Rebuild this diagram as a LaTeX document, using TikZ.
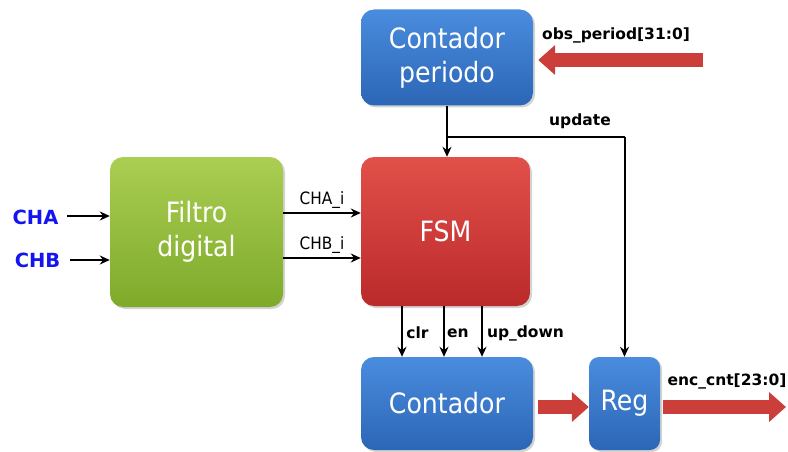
\documentclass[tikz,border=0pt]{standalone}
\usepackage{fontspec}
\setmainfont{DejaVu Sans}
\newfontfamily\boxfont{DejaVu Sans Condensed}
\usetikzlibrary{arrows.meta,shadows}

\definecolor{blueTop}{RGB}{74,140,222}
\definecolor{blueBot}{RGB}{44,102,182}
\definecolor{redTop}{RGB}{226,80,74}
\definecolor{redBot}{RGB}{186,42,42}
\definecolor{greenTop}{RGB}{170,206,82}
\definecolor{greenBot}{RGB}{126,170,42}
\definecolor{busRed}{RGB}{204,62,58}
\definecolor{inBlue}{RGB}{20,20,240}

\begin{document}
\begin{tikzpicture}[x=1pt,y=-1pt]
\tikzset{
  blk/.style={rounded corners=13pt, text=white, align=center, inner sep=0pt,
              font=\boxfont\fontsize{28}{34}\selectfont,
              drop shadow={shadow xshift=2pt,shadow yshift=-2pt,opacity=0.35}},
  bluebox/.style={blk, top color=blueTop, bottom color=blueBot},
  sig/.style={line width=2pt, -{Stealth[length=10pt,width=9pt]}},
  bus/.style={line width=14pt, draw=busRed, -{Triangle[length=17pt,width=29pt]}},
  lbl/.style={font=\bfseries\fontsize{15.5}{17}\selectfont, inner sep=1pt},
  thin/.style={font=\boxfont\fontsize{17}{19}\selectfont, inner sep=1pt},
  chin/.style={font=\bfseries\fontsize{19.5}{22}\selectfont, text=inBlue, inner sep=1pt}
}
\useasboundingbox (0,0) rectangle (788,452);

% blocks
\node[bluebox, minimum width=172pt, minimum height=96pt] (per) at (447,57.5) {Contador\\periodo};
\node[blk, top color=redTop, bottom color=redBot, minimum width=169pt, minimum height=149pt] (fsm) at (445.5,231.5) {FSM};
\node[blk, top color=greenTop, bottom color=greenBot, minimum width=173pt, minimum height=150pt] (filt) at (196.5,232) {Filtro\\digital};
\node[bluebox, minimum width=172pt, minimum height=93pt] (cnt) at (447,403.5) {Contador};
\node[bluebox, rounded corners=10pt, minimum width=71pt, minimum height=93pt] (reg) at (624.5,403.5) {Reg};

% inputs
\node[chin] (cha) at (35.5,217) {CHA};
\node[chin] (chb) at (37.5,260.5) {CHB};
\coordinate (ain) at (67,216);
\coordinate (bin) at (70,260);
\draw[sig] (ain) -- (filt.west |- ain);
\draw[sig] (bin) -- (filt.west |- bin);

\coordinate (ai) at (0,213);
\coordinate (bi) at (0,258);
\draw[sig] (filt.east |- ai) -- node[thin, above=2pt] {CHA\_i} (fsm.west |- ai);
\draw[sig] (filt.east |- bi) -- node[thin, above=2pt] {CHB\_i} (fsm.west |- bi);

% update
\coordinate (updy) at (0,137);
\draw[sig] (per.south) -- (per.south |- fsm.north);
\draw[line width=2pt] (per.south |- updy) -- (reg.north |- updy);
\draw[sig] (reg.north |- updy) -- (reg.north);
\node[lbl] (upd) at (580,121) {update};

% fsm -> contador
\coordinate (xclr) at (402,0);
\coordinate (xen) at (444,0);
\coordinate (xud) at (482,0);
\draw[sig] (xclr |- fsm.south) -- (xclr |- cnt.north);
\draw[sig] (xen |- fsm.south) -- (xen |- cnt.north);
\draw[sig] (xud |- fsm.south) -- (xud |- cnt.north);
\node[lbl] (clr) at (417.5,333) {clr};
\node[lbl] (en) at (458,333) {en};
\node[lbl] (ud) at (525.5,333) {up\_down};

% buses
\coordinate (obs) at (703,60);
\draw[bus, shorten >=5pt] (obs) -- (per.east |- obs);
\node[lbl] (obsl) at (616,35) {obs\_period[31:0]};
\coordinate (cy) at (0,407);
\draw[bus, shorten <=5pt] (cnt.east |- cy) -- (reg.west |- cy);
\coordinate (out) at (786,407);
\draw[bus, shorten <=3pt] (reg.east |- out) -- (out);
\node[lbl] (enc) at (727,381) {enc\_cnt[23:0]};
\end{tikzpicture}
\end{document}
